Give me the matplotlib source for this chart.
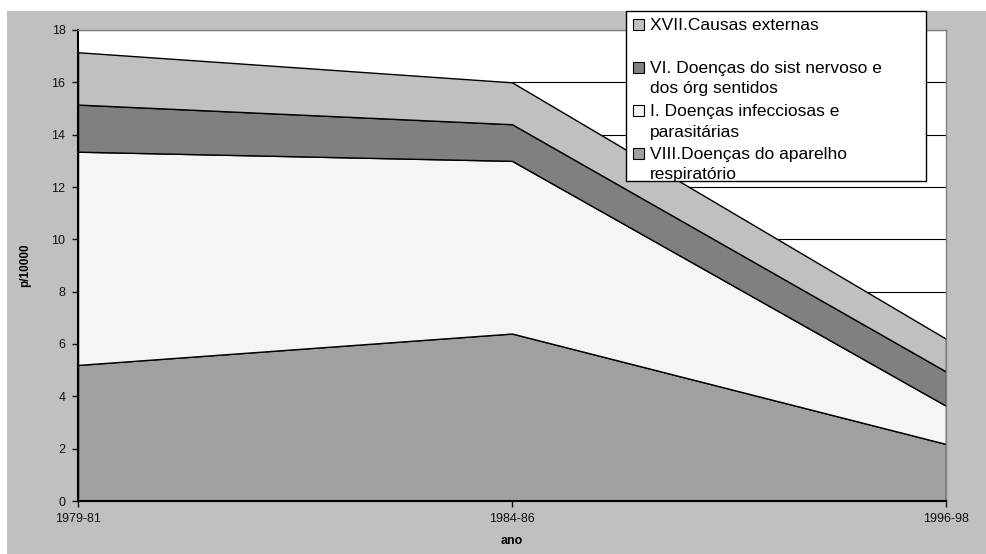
import numpy as np
import matplotlib.pyplot as plt
from matplotlib.patches import Rectangle

plt.rcParams['font.family'] = ['Liberation Sans', 'DejaVu Sans']

# taxas por 10000, empilhadas de baixo para cima
periodos = ['1979-81', '1984-86', '1996-98']
respiratorio = [5.2, 6.4, 2.18]
infecciosas = [8.15, 6.6, 1.46]
nervoso = [1.8, 1.4, 1.31]
externas = [2.0, 1.6, 1.25]

series = [respiratorio, infecciosas, nervoso, externas]
cores = ['#a0a0a0', '#f5f5f5', '#808080', '#c0c0c0']

# legenda (de cima para baixo)
rotulos = ['XVII.Causas externas',
           'VI. Doenças do sist nervoso e\ndos órg sentidos',
           'I. Doenças infecciosas e\nparasitárias',
           'VIII.Doenças do aparelho\nrespiratório']
cores_legenda = ['#c0c0c0', '#808080', '#f5f5f5', '#a0a0a0']

W, H = 987, 554
fig = plt.figure(figsize=(W / 100, H / 100), dpi=100)
fig.patch.set_facecolor('white')


def fx(px):
    return px / W


def fy(py):
    return 1 - py / H


# fundo cinza da área do gráfico
fig.add_artist(Rectangle((fx(7), 0), 1 - fx(7), fy(11), transform=fig.transFigure,
                         facecolor='#c0c0c0', edgecolor='none', zorder=-5))

ax = fig.add_axes([fx(78), fy(501), fx(946) - fx(78), fy(30) - fy(501)])
ax.set_facecolor('white')

x = np.arange(len(periodos))
ax.stackplot(x, *series, colors=cores, edgecolor='black', linewidth=1, zorder=2)

ax.set_xlim(0, len(periodos) - 1)
ax.set_ylim(0, 18)
ax.set_xticks(x)
ax.set_xticklabels(periodos)
ax.set_yticks(range(0, 19, 2))
ax.yaxis.grid(True, color='black', linewidth=0.8)
ax.set_axisbelow(True)

ax.tick_params(direction='out', length=4, width=1, labelsize=9, pad=5, colors='#111111')
for lado in ['left', 'bottom']:
    ax.spines[lado].set_color('black')
    ax.spines[lado].set_linewidth(1.5)
for lado in ['top', 'right']:
    ax.spines[lado].set_color('#808080')
    ax.spines[lado].set_linewidth(1)

ax.set_ylabel('p/10000', fontsize=8.5, fontweight='bold')
ax.yaxis.set_label_coords((31 - 78) / 868, 0.5)
ax.set_xlabel('ano', fontsize=9, fontweight='bold')
ax.xaxis.set_label_coords(0.5, (501 - 535) / 471)

# caixa da legenda
fig.add_artist(Rectangle((fx(626), fy(181)), fx(926) - fx(626), fy(11) - fy(181),
                         transform=fig.transFigure, facecolor='white',
                         edgecolor='black', linewidth=1, zorder=5))
for i, (rot, cor) in enumerate(zip(rotulos, cores_legenda)):
    y0 = 24.5 + 43 * i
    fig.add_artist(Rectangle((fx(633), fy(y0 + 5.5)), fx(11), 11 / H,
                             transform=fig.transFigure, facecolor=cor,
                             edgecolor='black', linewidth=0.8, zorder=6))
    for k, linha in enumerate(rot.split('\n')):
        fig.text(fx(650), fy(y0 + 20 * k), linha, fontsize=12.5,
                 va='center_baseline', ha='left', zorder=6)

fig.savefig('out.png', dpi=100)
